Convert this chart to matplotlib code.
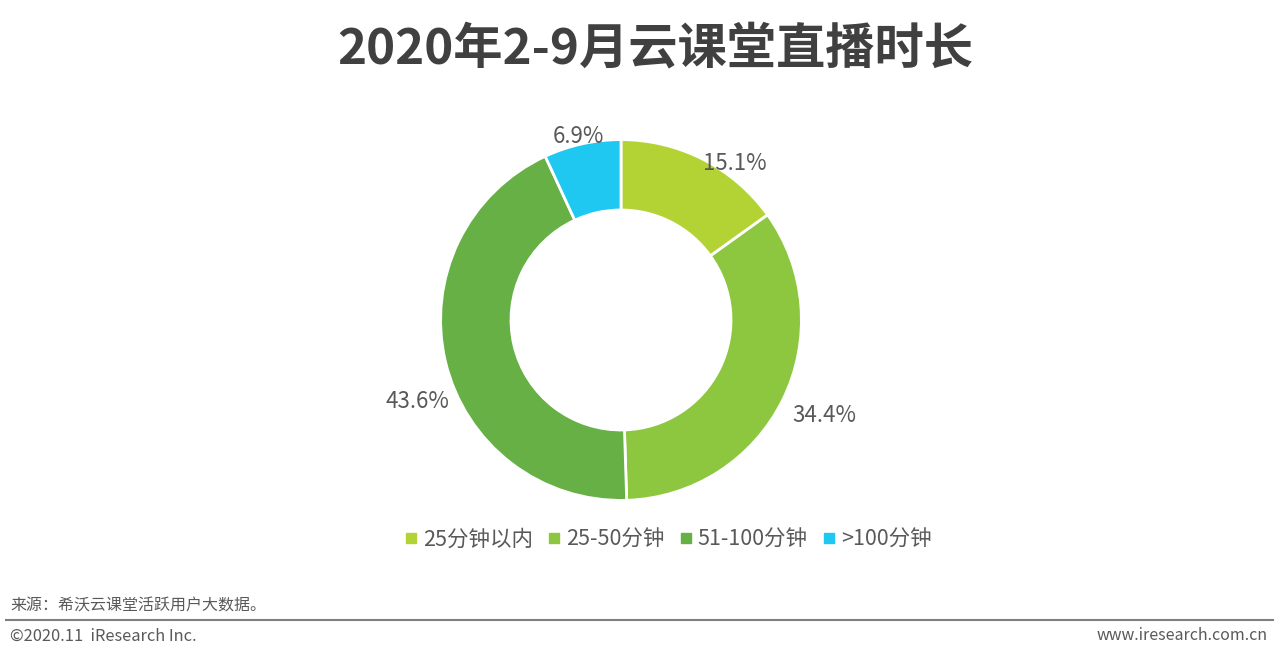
import numpy as np
import matplotlib
matplotlib.use('Agg')
import matplotlib.pyplot as plt
from matplotlib.lines import Line2D

plt.rcParams['font.family'] = ['Noto Sans CJK SC', 'DejaVu Sans']

# ---- data ----
categories = ['25分钟以内', '25-50分钟', '51-100分钟', '>100分钟']
shares = [15.1, 34.4, 43.6, 6.9]
colors = ['#B3D334', '#8DC63F', '#66B045', '#1FC8F0']
# label offset (px, right / down) from the outer edge at each wedge's middle
label_off = [(34, 0), (47, 18), (-33, 42), (-5, -12)]

W, H = 1280, 661
fig = plt.figure(figsize=(W / 100, H / 100), dpi=100)

# donut: centre at (621, 320) px, outer radius ~180 px
cx, cy, r = 621, 320, 180
half = 220
ax = fig.add_axes([(cx - half) / W, (H - cy - half) / H, 2 * half / W, 2 * half / H])
ax.set_xlim(-half / r, half / r)
ax.set_ylim(-half / r, half / r)
ax.set_aspect('equal')
ax.axis('off')

wedges, _ = ax.pie(shares, colors=colors, startangle=90, counterclock=False,
                   radius=1.025,
                   wedgeprops=dict(width=0.40, edgecolor='white', linewidth=2))

for w, val, (dx, dy) in zip(wedges, shares, label_off):
    mid = np.deg2rad((w.theta1 + w.theta2) / 2)
    ax.text(np.cos(mid) + dx / r, np.sin(mid) - dy / r, f'{val:.1f}%',
            ha='center', va='center', fontsize=16, color='#595959')

fig.text(655 / W, 1 - 49 / H, '2020年2-9月云课堂直播时长', ha='center', va='center',
         fontsize=35.5, fontweight='bold', color='#404040')

handles = [Line2D([], [], marker='s', linestyle='None', markersize=6.5,
                  markerfacecolor=c, markeredgecolor=c) for c in colors]
fig.legend(handles, categories, loc='center', bbox_to_anchor=(667 / W, 1 - 540 / H),
           ncol=4, frameon=False, fontsize=15.5, labelcolor='#595959',
           handletextpad=0.15, columnspacing=0.6, handlelength=0.8)

fig.text(10 / W, 1 - 606 / H, '来源：希沃云课堂活跃用户大数据。', ha='left', va='center',
         fontsize=11.5, color='#595959')
fig.add_artist(Line2D([6 / W, 1273 / W], [1 - 620 / H, 1 - 620 / H],
                      color='#7F7F7F', linewidth=1.5, transform=fig.transFigure))
fig.text(10 / W, 1 - 636 / H, '©2020.11  iResearch Inc.', ha='left', va='center',
         fontsize=11.8, color='#595959')
fig.text(1268 / W, 1 - 636 / H, 'www.iresearch.com.cn', ha='right', va='center',
         fontsize=11.5, color='#595959')

fig.savefig('out.png', dpi=100, facecolor='white')
